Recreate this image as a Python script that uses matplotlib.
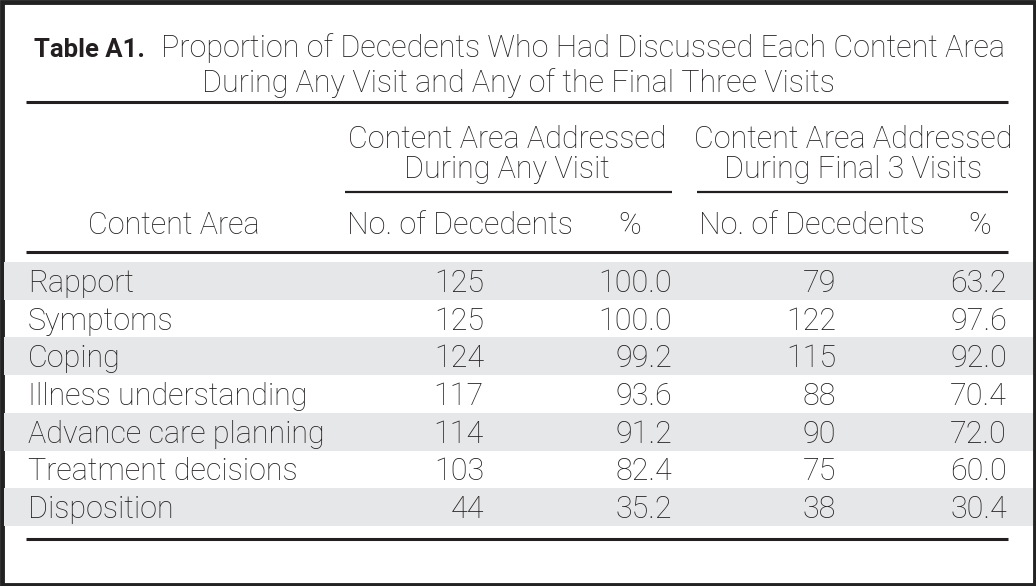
import matplotlib.pyplot as plt
from matplotlib.patches import Rectangle

# table data
content_areas = ["Rapport", "Symptoms", "Coping", "Illness understanding",
                 "Advance care planning", "Treatment decisions", "Disposition"]
any_visit_n = [125, 125, 124, 117, 114, 103, 44]
any_visit_pct = [100.0, 100.0, 99.2, 93.6, 91.2, 82.4, 35.2]
final3_n = [79, 122, 115, 88, 90, 75, 38]
final3_pct = [63.2, 97.6, 92.0, 70.4, 72.0, 60.0, 30.4]

group_headers = [("Content Area Addressed", "During Any Visit"),
                 ("Content Area Addressed", "During Final 3 Visits")]
col_headers = ["Content Area", "No. of Decedents", "%", "No. of Decedents", "%"]

ink = "#231f20"
shade = "#e6e7e8"
fam = "Roboto"
fs = 22


def txt(x, y, s, ha="left", **kw):
    kw.setdefault("family", fam)
    kw.setdefault("fontweight", "light")
    kw.setdefault("fontsize", fs)
    ax.text(x, y, s, color=ink, va="baseline", ha=ha, **kw)


fig = plt.figure(figsize=(10.36, 5.86), dpi=100)
ax = fig.add_axes([0, 0, 1, 1])
ax.set_xlim(0, 1036)
ax.set_ylim(586, 0)
ax.axis("off")

# outer frame
ax.add_patch(Rectangle((1.5, 1.5), 1033, 583, fill=False, lw=3.5, ec="#222222"))

# title
txt(34, 57, "Table A1.", fontweight="bold", fontsize=18.5)
txt(1005, 57, "Proportion of Decedents Who Had Discussed Each Content Area", ha="right")
txt(518, 92, "During Any Visit and Any of the Final Three Visits", ha="center")

left, right = 26, 1008
ax.plot([left, right], [102, 102], color=ink, lw=2.2, solid_capstyle="butt")

# group headers
for xc, (l1, l2) in zip([507, 853], group_headers):
    txt(xc, 148, l1, ha="center")
    txt(xc, 178, l2, ha="center")
ax.plot([345, 672], [192, 192], color=ink, lw=1.6, solid_capstyle="butt")
ax.plot([697, right], [192, 192], color=ink, lw=1.6, solid_capstyle="butt")

# column headers
hx = [174, 460, 630, 812, 980]
for x, h in zip(hx, col_headers):
    txt(x, 234, h, ha="center")
ax.plot([left, right], [252, 252], color=ink, lw=2.2, solid_capstyle="butt")

# body rows
row_top = 262
row_h = 37.7
col_right = [484, 672, 836, 1007]
for i, name in enumerate(content_areas):
    y0 = row_top + i * row_h
    if i % 2 == 0:
        ax.add_patch(Rectangle((3.5, y0), 1029, row_h, color=shade, lw=0))
    yb = y0 + 30
    txt(28, yb, name)
    vals = [str(any_visit_n[i]), f"{any_visit_pct[i]:.1f}",
            str(final3_n[i]), f"{final3_pct[i]:.1f}"]
    for x, v in zip(col_right, vals):
        txt(x, yb, v, ha="right")

ax.plot([left, right], [539, 539], color=ink, lw=2.2, solid_capstyle="butt")

fig.savefig("out.png", dpi=100)
